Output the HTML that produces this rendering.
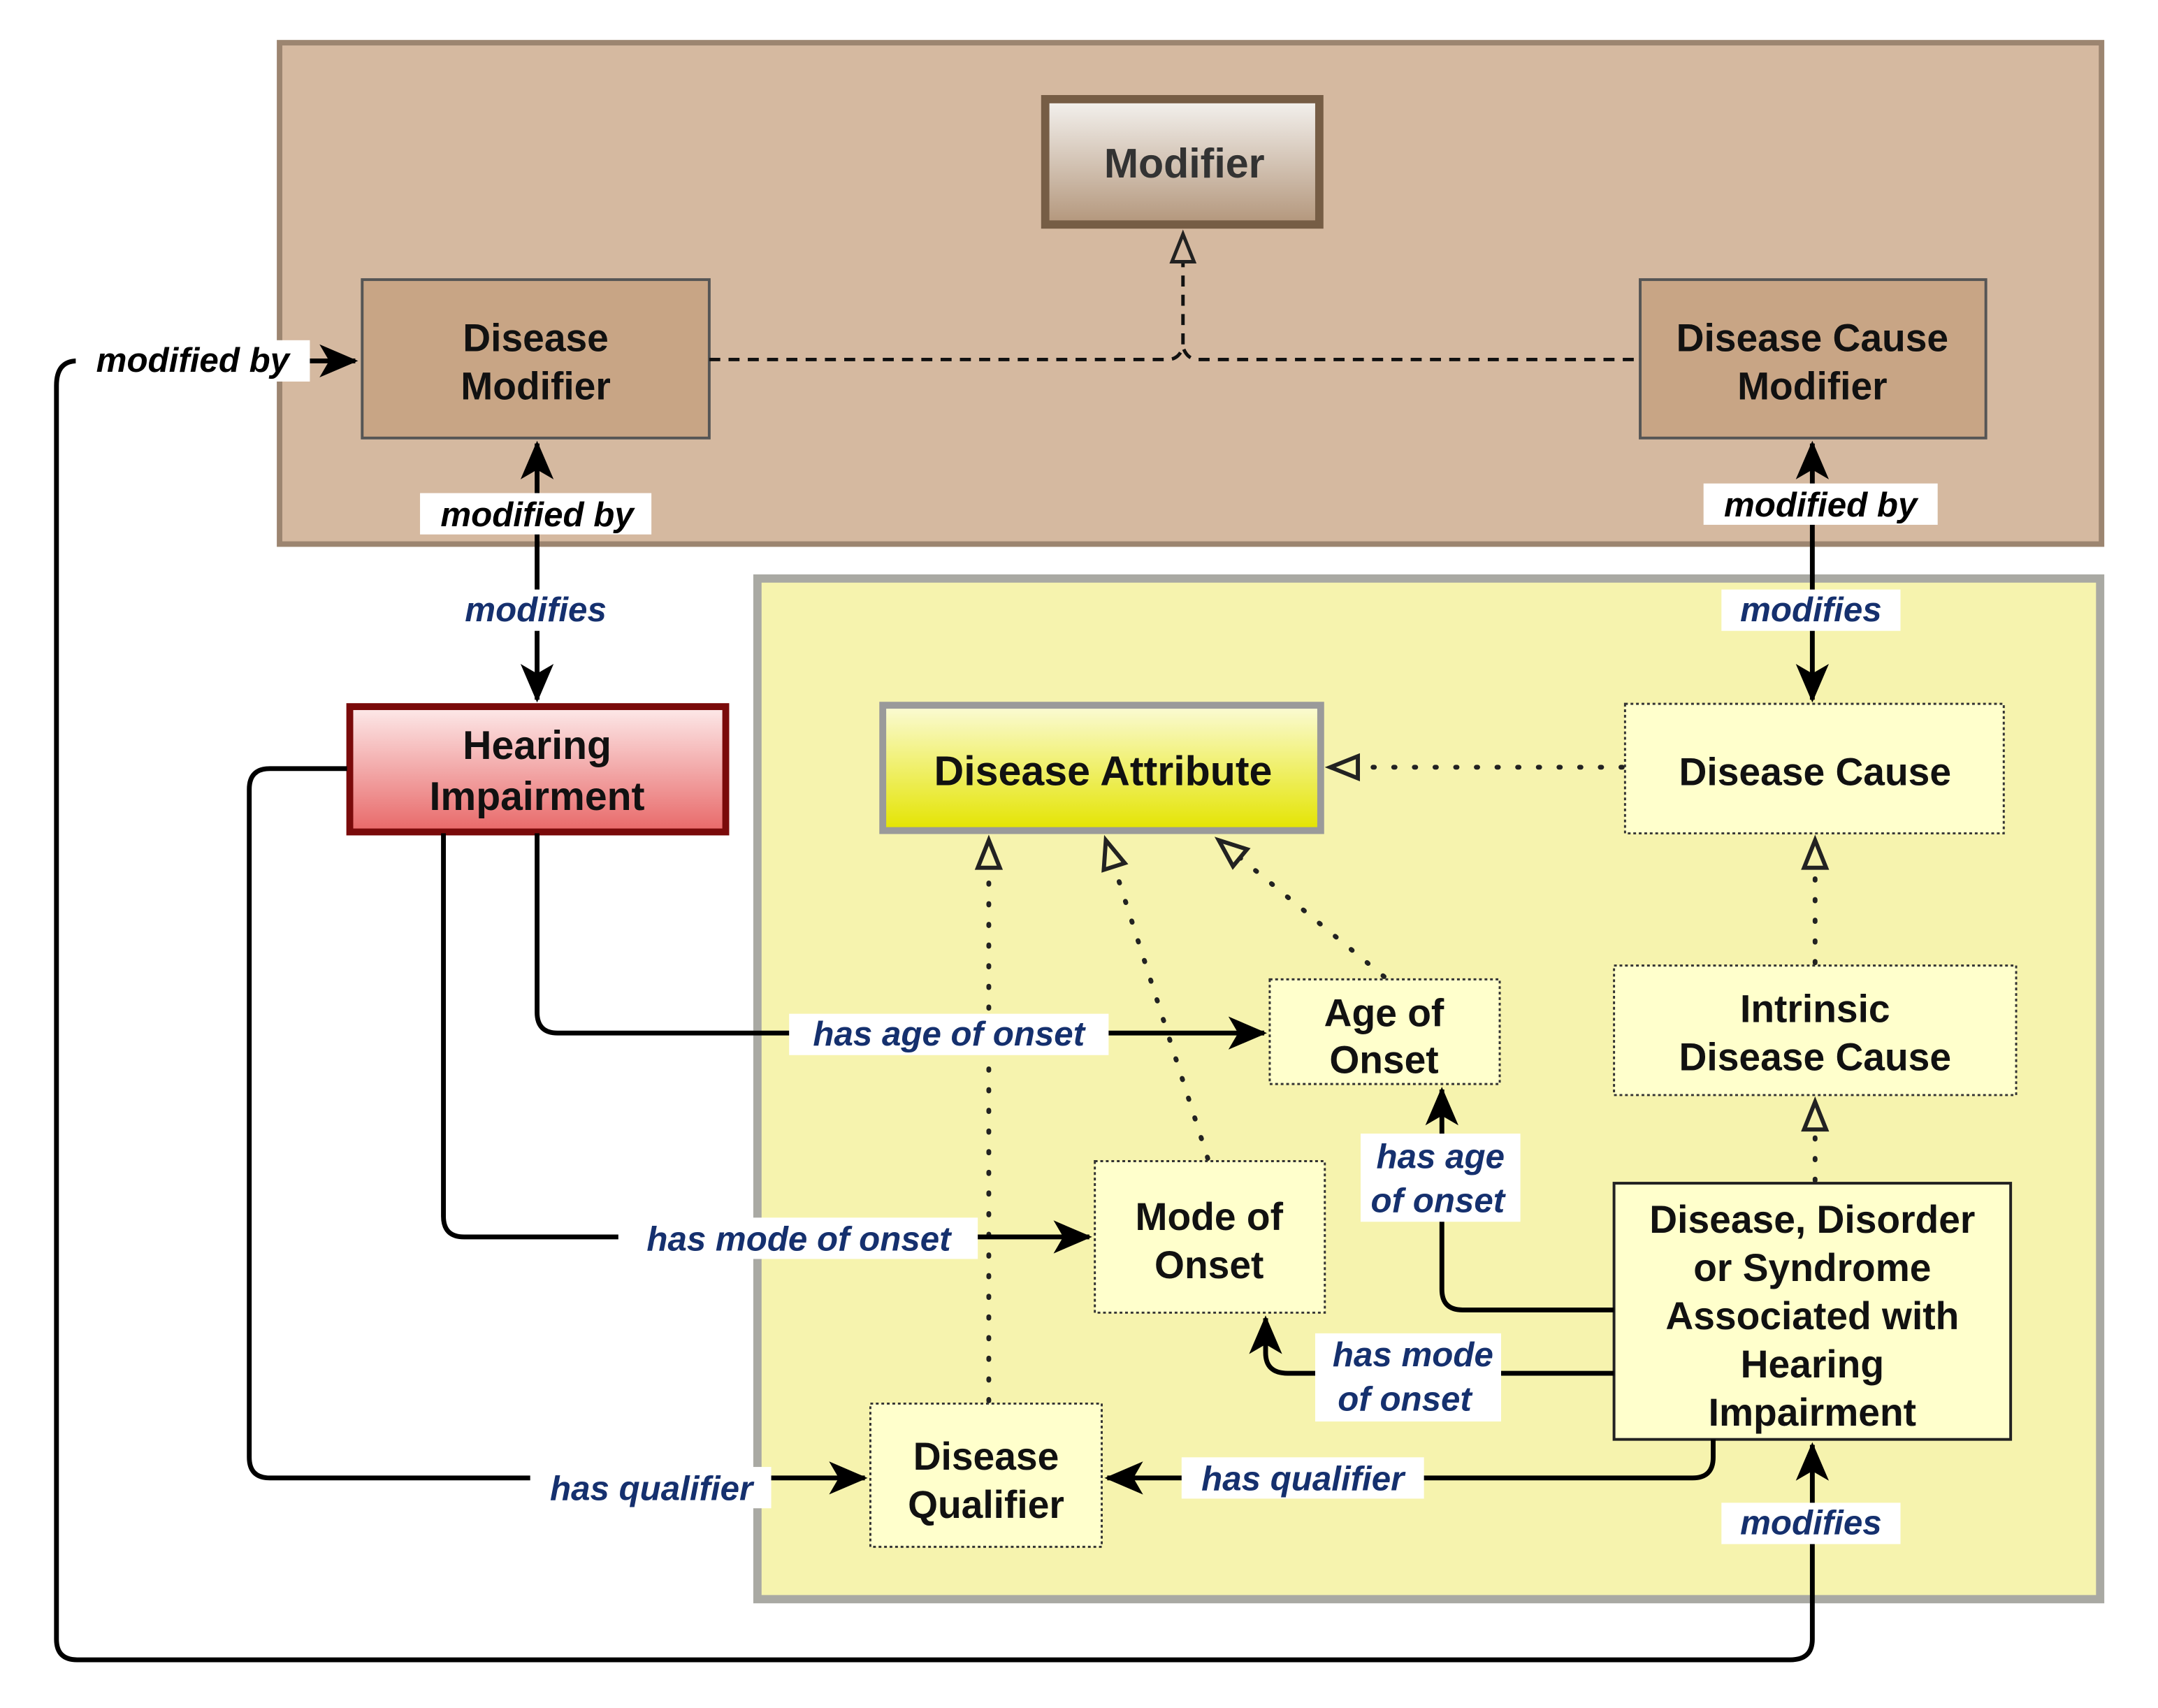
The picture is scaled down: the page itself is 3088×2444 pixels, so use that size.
<!DOCTYPE html>
<html><head><meta charset="utf-8"><style>
html,body{margin:0;padding:0;background:#fff}
svg{display:block}
text{font-family:"Liberation Sans",sans-serif;font-weight:bold}
.n{font-size:28px;fill:#111;text-anchor:middle}
.l{font-size:25px;font-style:italic;fill:#15306e;text-anchor:middle}
.k{font-size:25px;font-style:italic;fill:#000;text-anchor:middle}
.c{fill:none;stroke:#000;stroke-width:3.5}
.d{fill:none;stroke:#222;stroke-width:3.5;stroke-dasharray:1 14;stroke-linecap:round}
</style></head><body>
<svg width="3088" height="2444" viewBox="0 0 1567 1240" preserveAspectRatio="none" xmlns="http://www.w3.org/2000/svg">
<defs>
<linearGradient id="gm" x1="0" y1="0" x2="0" y2="1"><stop offset="0" stop-color="#f4f2ef"/><stop offset="1" stop-color="#b3967b"/></linearGradient>
<linearGradient id="gh" x1="0" y1="0" x2="0" y2="1"><stop offset="0" stop-color="#fdeaea"/><stop offset="1" stop-color="#e86868"/></linearGradient>
<linearGradient id="ga" x1="0" y1="0" x2="0" y2="1"><stop offset="0" stop-color="#fbfbd6"/><stop offset="1" stop-color="#e4e400"/></linearGradient>
<marker id="ar" markerUnits="userSpaceOnUse" markerWidth="30" markerHeight="30" refX="26" refY="12" orient="auto" viewBox="0 0 30 24"><path d="M0,0 L28,12 L0,24 L7,12 z" fill="#000"/></marker>
<marker id="tr" markerUnits="userSpaceOnUse" markerWidth="26" markerHeight="26" refX="22" refY="10" orient="auto" viewBox="0 0 26 20"><path d="M2,2 L22,10 L2,18 z" fill="#f6f3ae" stroke="#222" stroke-width="3"/></marker>
<marker id="tb" markerUnits="userSpaceOnUse" markerWidth="26" markerHeight="26" refX="22" refY="10" orient="auto" viewBox="0 0 26 20"><path d="M2,2 L22,10 L2,18 z" fill="#d5b9a0" stroke="#222" stroke-width="2.5"/></marker>
</defs>
<rect x="203" y="31" width="1323" height="364" fill="#d5b9a0" stroke="#9c8570" stroke-width="4"/>
<rect x="550" y="420" width="975" height="741" fill="#f6f3ae" stroke="#a9a9a3" stroke-width="6"/>
<rect x="759" y="72" width="199" height="91" fill="url(#gm)" stroke="#765d45" stroke-width="6"/>
<text class="n" x="860" y="129" style="fill:#333;font-size:30px">Modifier</text>
<rect x="263" y="203" width="252" height="115" fill="#c8a585" stroke="#555" stroke-width="2"/>
<text class="n" x="389" y="255">Disease</text><text class="n" x="389" y="290">Modifier</text>
<rect x="1191" y="203" width="251" height="115" fill="#c8a585" stroke="#555" stroke-width="2"/>
<text class="n" x="1316" y="255">Disease Cause</text><text class="n" x="1316" y="290">Modifier</text>
<path d="M515,261 H848 Q856,261 859,252 Q862,261 870,261 H1191" fill="none" stroke="#111" stroke-width="2.5" stroke-dasharray="8 6"/>
<path d="M859,250 V170" fill="none" stroke="#111" stroke-width="2.5" stroke-dasharray="8 6" marker-end="url(#tb)"/>
<rect x="254" y="513" width="273" height="91" fill="url(#gh)" stroke="#7a0a0a" stroke-width="5"/>
<text class="n" x="390" y="551" style="font-size:29px">Hearing</text><text class="n" x="390" y="588" style="font-size:29px">Impairment</text>
<rect x="641" y="512" width="318" height="91" fill="url(#ga)" stroke="#9a9a9a" stroke-width="5"/>
<text class="n" x="801" y="570" style="font-size:30px">Disease Attribute</text>
<g fill="#ffffcc" stroke="#333" stroke-width="1.5" stroke-dasharray="2 2">
<rect x="1180" y="511" width="275" height="94"/>
<rect x="1172" y="701" width="292" height="94"/>
<rect x="922" y="711" width="167" height="76"/>
<rect x="795" y="843" width="167" height="110"/>
<rect x="632" y="1019" width="168" height="104"/>
</g>
<rect x="1172" y="859" width="288" height="186" fill="#ffffcc" stroke="#222" stroke-width="2"/>
<text class="n" x="1318" y="570">Disease Cause</text>
<text class="n" x="1318" y="742">Intrinsic</text><text class="n" x="1318" y="777">Disease Cause</text>
<text class="n" x="1005" y="745">Age of</text><text class="n" x="1005" y="779">Onset</text>
<text class="n" x="878" y="893">Mode of</text><text class="n" x="878" y="928">Onset</text>
<text class="n" x="716" y="1067">Disease</text><text class="n" x="716" y="1102">Qualifier</text>
<text class="n" x="1316" y="895">Disease, Disorder</text><text class="n" x="1316" y="930">or Syndrome</text><text class="n" x="1316" y="965">Associated with</text><text class="n" x="1316" y="1000">Hearing</text><text class="n" x="1316" y="1035">Impairment</text>
<path class="d" d="M1178,557 H966" marker-end="url(#tr)"/>
<path class="d" d="M1318,699 V610" marker-end="url(#tr)"/>
<path class="d" d="M1318,857 V800" marker-end="url(#tr)"/>
<path class="d" d="M718,1017 V610" marker-end="url(#tr)"/>
<path class="d" d="M877,841 L803,610" marker-end="url(#tr)"/>
<path class="d" d="M1005,709 L885,610" marker-end="url(#tr)"/>
<path class="c" d="M390,360 V322" marker-end="url(#ar)"/>
<path class="c" d="M390,385 V508" marker-end="url(#ar)"/>
<path class="c" d="M1316,355 V322" marker-end="url(#ar)"/>
<path class="c" d="M1316,380 V508" marker-end="url(#ar)"/>
<path class="c" d="M1316,1190 Q1316,1205 1300,1205 H56 Q41,1205 41,1190 V280 Q41,262 56,262 H258" marker-end="url(#ar)"/>
<path class="c" d="M1316,1190 V1049" marker-end="url(#ar)"/>
<path class="c" d="M390,605 V735 Q390,750 405,750 H918" marker-end="url(#ar)"/>
<path class="c" d="M322,605 V883 Q322,898 337,898 H791" marker-end="url(#ar)"/>
<path class="c" d="M252,558 H196 Q181,558 181,573 V1058 Q181,1073 196,1073 H628" marker-end="url(#ar)"/>
<path class="c" d="M1172,951 H1062 Q1047,951 1047,936 V791" marker-end="url(#ar)"/>
<path class="c" d="M1172,997 H935 Q919,997 919,982 V957" marker-end="url(#ar)"/>
<path class="c" d="M1244,1045 V1058 Q1244,1073 1229,1073 H804" marker-end="url(#ar)"/>
<g fill="#fff">
<rect x="55" y="247" width="170" height="30"/>
<rect x="305" y="358" width="168" height="30"/>
<rect x="325" y="428" width="128" height="30"/>
<rect x="1237" y="351" width="170" height="30"/>
<rect x="1250" y="428" width="130" height="30"/>
<rect x="1250" y="1091" width="130" height="30"/>
<rect x="573" y="736" width="232" height="30"/>
<rect x="449" y="884" width="261" height="30"/>
<rect x="385" y="1065" width="175" height="30"/>
<rect x="988" y="823" width="116" height="64"/>
<rect x="955" y="968" width="135" height="64"/>
<rect x="858" y="1058" width="176" height="30"/>
</g>
<text class="k" x="140" y="270">modified by</text>
<text class="k" x="390" y="382">modified by</text>
<text class="k" x="1322" y="375">modified by</text>
<text class="l" x="389" y="451">modifies</text>
<text class="l" x="1315" y="451">modifies</text>
<text class="l" x="1315" y="1114">modifies</text>
<text class="l" x="689" y="759">has age of onset</text>
<text class="l" x="580" y="908">has mode of onset</text>
<text class="l" x="473" y="1089">has qualifier</text>
<text class="l" x="1046" y="848">has age</text><text class="l" x="1044" y="880">of onset</text>
<text class="l" x="1026" y="992">has mode</text><text class="l" x="1020" y="1024">of onset</text>
<text class="l" x="946" y="1082">has qualifier</text>
</svg>
</body></html>
